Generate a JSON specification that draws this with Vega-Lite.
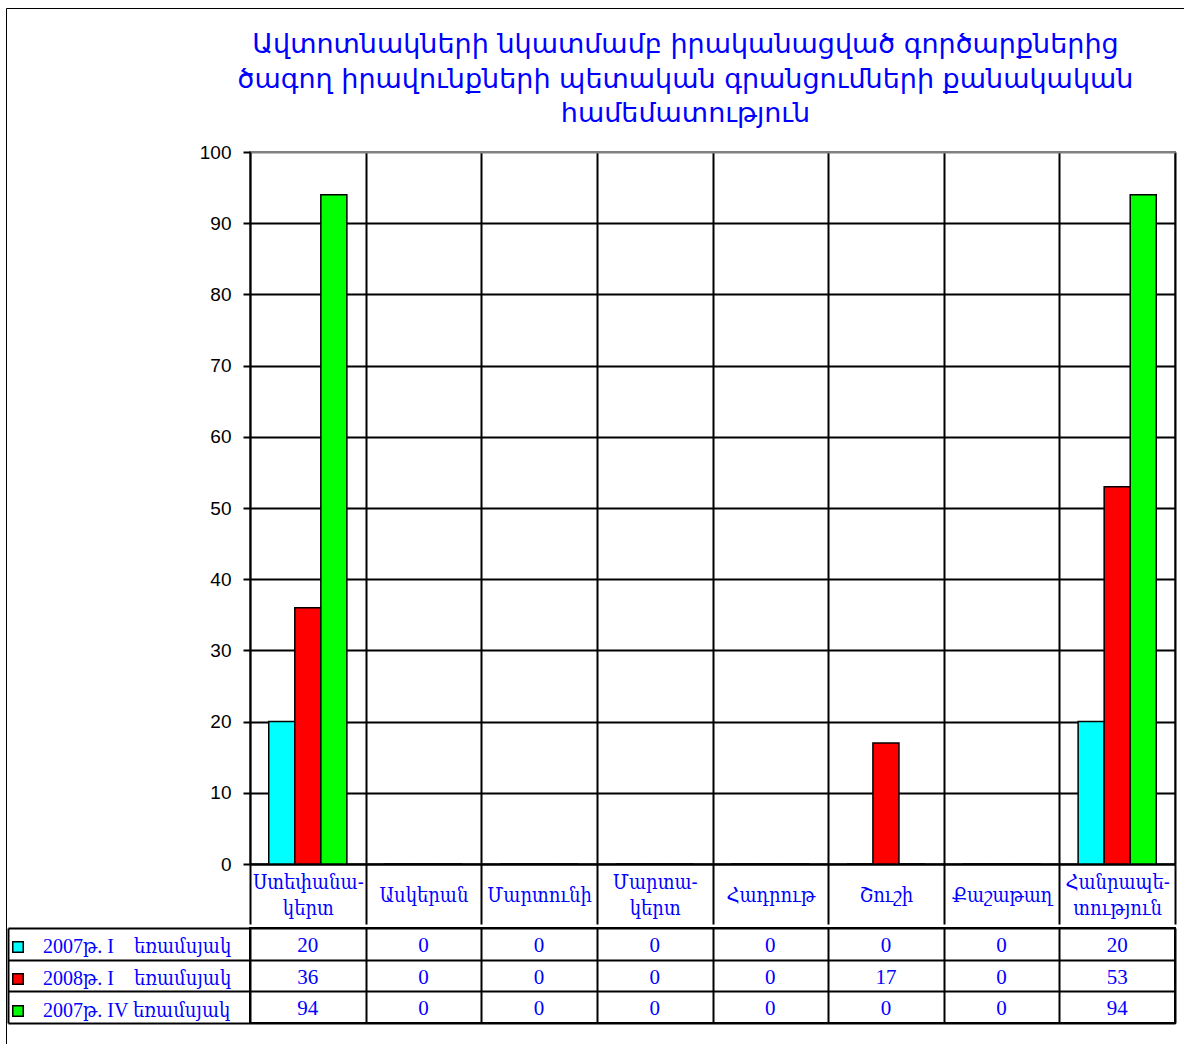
{
  "$schema": "https://vega.github.io/schema/vega-lite/v6.json",
  "background": "white",
  "padding": {"left": 5, "top": 7, "right": 0, "bottom": 0},
  "config": {"view": {"stroke": null}, "axis": {"labelOverlap": false}},
  "datasets": {
    "d": [
      {"region": "Ստեփանակերտ", "period": "2007թ. I\u00a0\u00a0\u00a0\u00a0եռամսյակ", "value": 20},
      {"region": "Ստեփանակերտ", "period": "2008թ. I\u00a0\u00a0\u00a0\u00a0եռամսյակ", "value": 36},
      {"region": "Ստեփանակերտ", "period": "2007թ. IV եռամսյակ", "value": 94},
      {"region": "Ասկերան", "period": "2007թ. I\u00a0\u00a0\u00a0\u00a0եռամսյակ", "value": 0},
      {"region": "Ասկերան", "period": "2008թ. I\u00a0\u00a0\u00a0\u00a0եռամսյակ", "value": 0},
      {"region": "Ասկերան", "period": "2007թ. IV եռամսյակ", "value": 0},
      {"region": "Մարտունի", "period": "2007թ. I\u00a0\u00a0\u00a0\u00a0եռամսյակ", "value": 0},
      {"region": "Մարտունի", "period": "2008թ. I\u00a0\u00a0\u00a0\u00a0եռամսյակ", "value": 0},
      {"region": "Մարտունի", "period": "2007թ. IV եռամսյակ", "value": 0},
      {"region": "Մարտակերտ", "period": "2007թ. I\u00a0\u00a0\u00a0\u00a0եռամսյակ", "value": 0},
      {"region": "Մարտակերտ", "period": "2008թ. I\u00a0\u00a0\u00a0\u00a0եռամսյակ", "value": 0},
      {"region": "Մարտակերտ", "period": "2007թ. IV եռամսյակ", "value": 0},
      {"region": "Հադրութ", "period": "2007թ. I\u00a0\u00a0\u00a0\u00a0եռամսյակ", "value": 0},
      {"region": "Հադրութ", "period": "2008թ. I\u00a0\u00a0\u00a0\u00a0եռամսյակ", "value": 0},
      {"region": "Հադրութ", "period": "2007թ. IV եռամսյակ", "value": 0},
      {"region": "Շուշի", "period": "2007թ. I\u00a0\u00a0\u00a0\u00a0եռամսյակ", "value": 0},
      {"region": "Շուշի", "period": "2008թ. I\u00a0\u00a0\u00a0\u00a0եռամսյակ", "value": 17},
      {"region": "Շուշի", "period": "2007թ. IV եռամսյակ", "value": 0},
      {"region": "Քաշաթաղ", "period": "2007թ. I\u00a0\u00a0\u00a0\u00a0եռամսյակ", "value": 0},
      {"region": "Քաշաթաղ", "period": "2008թ. I\u00a0\u00a0\u00a0\u00a0եռամսյակ", "value": 0},
      {"region": "Քաշաթաղ", "period": "2007թ. IV եռամսյակ", "value": 0},
      {"region": "Հանրապետություն", "period": "2007թ. I\u00a0\u00a0\u00a0\u00a0եռամսյակ", "value": 20},
      {"region": "Հանրապետություն", "period": "2008թ. I\u00a0\u00a0\u00a0\u00a0եռամսյակ", "value": 53},
      {"region": "Հանրապետություն", "period": "2007թ. IV եռամսյակ", "value": 94}
    ]
  },
  "spacing": 0,
  "resolve": {"scale": {"x": "independent", "y": "independent"}},
  "vconcat": [
    {
      "width": 925,
      "height": 712,
      "title": {
        "text": ["Ավտոտնակների նկատմամբ իրականացված գործարքներից", "ծագող իրավունքների պետական գրանցումների քանակական", "համեմատություն"],
        "font": "DejaVu Sans",
        "fontSize": 27,
        "fontWeight": "normal",
        "color": "#0000FF",
        "lineHeight": 34.5,
        "anchor": "middle",
        "frame": "group",
        "dx": -27,
        "offset": 15
      },
      "view": {"stroke": "#808080", "strokeWidth": 2},
      "data": {"name": "d"},
      "mark": {"type": "bar", "stroke": "black", "strokeWidth": 1.5},
      "encoding": {
        "x": {
          "field": "region",
          "type": "nominal",
          "scale": {"domain": ["Ստեփանակերտ", "Ասկերան", "Մարտունի", "Մարտակերտ", "Հադրութ", "Շուշի", "Քաշաթաղ", "Հանրապետություն"], "paddingInner": 0, "paddingOuter": 0},
          "axis": {
            "title": null,
            "tickBand": "extent",
            "grid": true,
            "gridColor": {"condition": {"test": "datum.extra", "value": "#808080"}, "value": "black"},
            "gridWidth": 2,
            "tickSize": 60,
            "tickWidth": 2,
            "tickColor": "black",
            "domainColor": "black",
            "domainWidth": 2,
            "labelAngle": 0,
            "labelFont": "DejaVu Serif Condensed, DejaVu Serif",
            "labelFontSize": 20,
            "labelColor": "#0000FF",
            "labelPadding": -42,
            "labelBaseline": {"condition": {"test": "indexof(['Ստեփանակերտ', 'Մարտակերտ', 'Հանրապետություն'], datum.value) >= 0", "value": "middle"}, "value": "line-top"},
            "labelLineHeight": 26,
            "labelLimit": 200,
            "labelExpr": "datum.label == 'Ստեփանակերտ' ? ['Ստեփանա-', 'կերտ'] : datum.label == 'Մարտակերտ' ? ['Մարտա-', 'կերտ'] : datum.label == 'Հանրապետություն' ? ['Հանրապե-', 'տություն'] : datum.label"
          }
        },
        "xOffset": {
          "field": "period",
          "type": "nominal",
          "scale": {"domain": ["2007թ. I\u00a0\u00a0\u00a0\u00a0եռամսյակ", "2008թ. I\u00a0\u00a0\u00a0\u00a0եռամսյակ", "2007թ. IV եռամսյակ"], "paddingInner": 0, "paddingOuter": 0.72}
        },
        "y": {
          "field": "value",
          "type": "quantitative",
          "scale": {"domain": [0, 100], "nice": false},
          "axis": {
            "title": null,
            "values": [0, 10, 20, 30, 40, 50, 60, 70, 80, 90, 100],
            "grid": true,
            "gridColor": {"condition": {"test": "datum.value >= 100", "value": "#808080"}, "value": "black"},
            "gridWidth": 2,
            "tickSize": 7,
            "tickWidth": 2,
            "tickColor": "black",
            "domainColor": "black",
            "domainWidth": 2,
            "labelFont": "Liberation Sans",
            "labelFontSize": 19,
            "labelColor": "black",
            "labelPadding": 12,
            "minExtent": 242,
            "maxExtent": 242
          }
        },
        "color": {
          "field": "period",
          "type": "nominal",
          "scale": {"domain": ["2007թ. I\u00a0\u00a0\u00a0\u00a0եռամսյակ", "2008թ. I\u00a0\u00a0\u00a0\u00a0եռամսյակ", "2007թ. IV եռամսյակ"], "range": ["#00FFFF", "#FF0000", "#00FF00"]},
          "legend": {
            "orient": "none",
            "legendX": -242,
            "legendY": 785,
            "title": null,
            "padding": 0,
            "symbolType": "square",
            "symbolSize": 110,
            "symbolStrokeColor": "black",
            "symbolStrokeWidth": 1.5,
            "labelFont": "Liberation Serif, DejaVu Serif Condensed, DejaVu Serif",
            "labelFontSize": 20,
            "labelColor": "#0000FF",
            "labelOffset": 15,
            "rowPadding": 12,
            "labelLimit": 300
          }
        }
      }
    },
    {
      "width": 925,
      "height": 95,
      "view": {"stroke": "black", "strokeWidth": 2},
      "data": {"name": "d"},
      "encoding": {
        "x": {
          "field": "region",
          "type": "nominal",
          "scale": {"domain": ["Ստեփանակերտ", "Ասկերան", "Մարտունի", "Մարտակերտ", "Հադրութ", "Շուշի", "Քաշաթաղ", "Հանրապետություն"], "paddingInner": 0, "paddingOuter": 0},
          "axis": {"title": null, "labels": false, "ticks": false, "domain": false, "grid": true, "tickBand": "extent", "gridColor": "black", "gridWidth": 2}
        }
      },
      "layer": [
        {
          "mark": {"type": "text", "font": "Liberation Serif", "fontSize": 21, "color": "#0000FF", "baseline": "middle", "dy": 2},
          "encoding": {
            "y": {
              "field": "period",
              "type": "nominal",
              "scale": {"domain": ["2007թ. I\u00a0\u00a0\u00a0\u00a0եռամսյակ", "2008թ. I\u00a0\u00a0\u00a0\u00a0եռամսյակ", "2007թ. IV եռամսյակ"], "paddingInner": 0, "paddingOuter": 0},
              "axis": {"title": null, "orient": "left", "labels": false, "domain": false, "ticks": true, "tickBand": "extent", "tickSize": 242, "tickWidth": 2, "tickColor": "black", "grid": true, "gridColor": "black", "gridWidth": 2}
            },
            "text": {"field": "value", "type": "quantitative"}
          }
        },
        {
          "mark": {"type": "point", "opacity": 0, "size": 1},
          "encoding": {
            "y": {
              "field": "period",
              "type": "nominal",
              "axis": {"title": null, "orient": "left", "offset": 242, "labels": false, "ticks": false, "grid": false, "domain": true, "domainColor": "black", "domainWidth": 2}
            },
            "shape": {
              "datum": "f",
              "type": "nominal",
              "legend": {
                "orient": "none",
                "legendX": -244,
                "legendY": -144,
                "title": null,
                "padding": 580,
                "strokeColor": "black",
                "symbolOpacity": 0,
                "labelOpacity": 0,
                "encode": {"legend": {"update": {"strokeWidth": {"value": 2.5}}}}
              }
            }
          }
        }
      ],
      "resolve": {"axis": {"y": "independent"}}
    }
  ]
}
